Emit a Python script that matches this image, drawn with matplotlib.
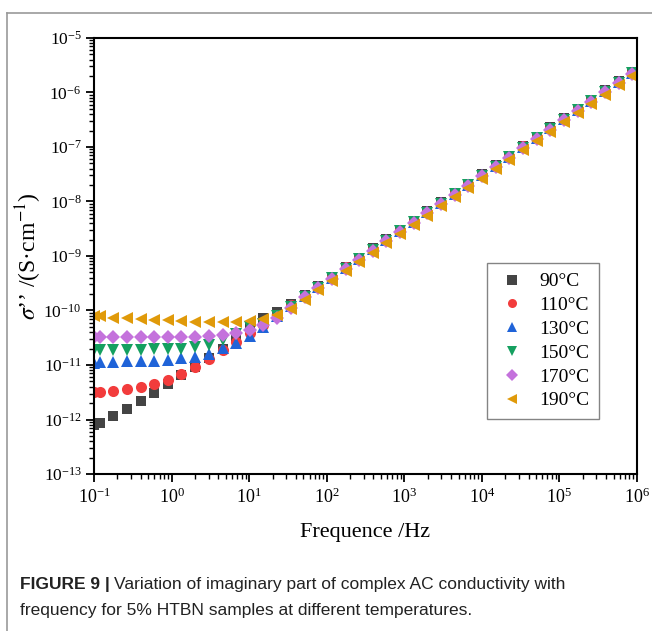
import matplotlib
matplotlib.use("Agg")
import matplotlib.pyplot as plt
from matplotlib.lines import Line2D
from matplotlib.ticker import LogLocator, NullFormatter
import numpy as np

plt.rcParams['font.family'] = 'Liberation Serif'
plt.rcParams['mathtext.fontset'] = 'stix'

# frequency sweep (Hz)
freq = [0.1, 0.12, 0.177, 0.266, 0.398, 0.598, 0.896, 1.34, 2.02, 3.02,
        4.54, 6.8, 10.2, 15.3, 23.0, 34.5, 51.7, 77.6, 116, 175,
        262, 393, 589, 884, 1330, 1990, 2980, 4480, 6720, 10100,
        15100, 22700, 34000, 51000, 76500, 115000, 172000, 258000, 388000, 581000,
        872000]

# log10(sigma'') for each temperature
log_90 = [-12.10, -12.06, -11.94, -11.81, -11.66, -11.51, -11.35, -11.18, -11.03, -10.88,
          -10.71, -10.51, -10.30, -10.14, -10.02, -9.88, -9.72, -9.55, -9.38, -9.20,
          -9.03, -8.86, -8.69, -8.52, -8.35, -8.18, -8.01, -7.84, -7.67, -7.50,
          -7.33, -7.16, -6.98, -6.81, -6.64, -6.47, -6.30, -6.13, -5.96, -5.79,
          -5.62]
log_110 = [-11.50, -11.50, -11.47, -11.44, -11.40, -11.35, -11.28, -11.17, -11.03, -10.89,
           -10.72, -10.57, -10.42, -10.27, -10.08, -9.89, -9.73, -9.56, -9.39, -9.21,
           -9.04, -8.87, -8.70, -8.53, -8.36, -8.19, -8.02, -7.85, -7.68, -7.51,
           -7.34, -7.17, -6.99, -6.82, -6.65, -6.48, -6.31, -6.14, -5.97, -5.80,
           -5.63]
log_130 = [-10.96, -10.94, -10.94, -10.93, -10.93, -10.92, -10.91, -10.88, -10.85, -10.80,
           -10.69, -10.59, -10.46, -10.31, -10.10, -9.91, -9.74, -9.57, -9.40, -9.22,
           -9.05, -8.88, -8.71, -8.54, -8.37, -8.20, -8.03, -7.86, -7.69, -7.52,
           -7.35, -7.18, -7.00, -6.83, -6.66, -6.49, -6.32, -6.15, -5.98, -5.81,
           -5.64]
log_150 = [-10.73, -10.72, -10.72, -10.72, -10.72, -10.71, -10.71, -10.70, -10.67, -10.63,
           -10.54, -10.43, -10.31, -10.24, -10.11, -9.93, -9.75, -9.58, -9.41, -9.23,
           -9.06, -8.89, -8.72, -8.55, -8.38, -8.21, -8.04, -7.87, -7.70, -7.53,
           -7.36, -7.19, -7.01, -6.84, -6.67, -6.50, -6.33, -6.16, -5.99, -5.82,
           -5.65]
log_170 = [-10.49, -10.49, -10.49, -10.49, -10.49, -10.49, -10.49, -10.49, -10.48, -10.47,
           -10.45, -10.41, -10.35, -10.26, -10.14, -9.95, -9.76, -9.59, -9.42, -9.24,
           -9.07, -8.90, -8.73, -8.56, -8.39, -8.22, -8.05, -7.88, -7.71, -7.54,
           -7.37, -7.20, -7.02, -6.85, -6.68, -6.51, -6.34, -6.17, -6.00, -5.83,
           -5.66]
log_190 = [-10.11, -10.11, -10.13, -10.14, -10.16, -10.17, -10.17, -10.19, -10.21, -10.22,
           -10.22, -10.21, -10.19, -10.15, -10.08, -9.97, -9.80, -9.63, -9.46, -9.28,
           -9.11, -8.94, -8.77, -8.60, -8.43, -8.26, -8.09, -7.92, -7.75, -7.58,
           -7.41, -7.24, -7.06, -6.89, -6.72, -6.55, -6.38, -6.21, -6.04, -5.87,
           -5.70]

labels = ['90°C', '110°C', '130°C', '150°C', '170°C', '190°C']
series = [log_90, log_110, log_130, log_150, log_170, log_190]
colors = ['#444444', '#f23c3c', '#1f63d8', '#15a060', '#c472dc', '#e09a0a']
markers = ['s', 'o', '^', 'v', 'D', '<']
msizes = [7, 8, 9, 9, 7.5, 9]

fig = plt.figure(figsize=(6.52, 6.31), dpi=100)
ax = fig.add_axes([0.1442, 0.2488, 0.8328, 0.691])

for lab, vals, c, m, ms in zip(labels, series, colors, markers, msizes):
    ax.plot(freq, 10 ** np.array(vals), linestyle='none', marker=m, color=c,
            markersize=ms, markeredgewidth=0, label=lab)

ax.set_xscale('log')
ax.set_yscale('log')
ax.set_xlim(0.1, 1e6)
ax.set_ylim(1e-13, 1e-5)

ax.xaxis.set_major_locator(LogLocator(base=10, numticks=20))
ax.yaxis.set_major_locator(LogLocator(base=10, numticks=20))
ax.xaxis.set_minor_locator(LogLocator(base=10, subs=np.arange(2, 10), numticks=20))
ax.yaxis.set_minor_locator(LogLocator(base=10, subs=np.arange(2, 10), numticks=20))
ax.xaxis.set_minor_formatter(NullFormatter())
ax.yaxis.set_minor_formatter(NullFormatter())

ax.tick_params(which='major', direction='out', length=6, width=1.3, labelsize=13,
               top=False, right=False)
ax.tick_params(axis='y', which='major', labelsize=12.5, pad=3)
ax.tick_params(which='minor', direction='out', length=3.5, width=1.0,
               top=False, right=False)
for s in ax.spines.values():
    s.set_linewidth(1.5)

ax.set_xlabel('Frequence /Hz', fontsize=16, labelpad=12)
ax.set_ylabel(r"$\sigma$’’ /(S·cm$^{-1}$)", fontsize=17)
ax.yaxis.set_label_coords(-0.092, 0.5)

leg = ax.legend(loc='upper left', bbox_to_anchor=(0.724, 0.484), borderaxespad=0,
                fontsize=14, frameon=True, fancybox=False, edgecolor='#666666',
                handletextpad=0.6, labelspacing=0.32, borderpad=0.5,
                handlelength=1.6)
leg.get_frame().set_linewidth(1.0)
for h in leg.legend_handles:
    h.set_markersize(6.5)

# page frame lines around the figure
fig.add_artist(Line2D([7 / 652, 1.0], [1 - 12.5 / 631, 1 - 12.5 / 631],
                      transform=fig.transFigure, color='#999999', lw=1.2))
fig.add_artist(Line2D([7 / 652, 7 / 652], [0, 1 - 12.5 / 631],
                      transform=fig.transFigure, color='#999999', lw=1.2))

# caption
cap_kw = dict(fontsize=12.5, family='Liberation Sans', color='#222222', va='baseline')
t1 = fig.text(20 / 652, 1 - 589 / 631, 'FIGURE 9 |', fontweight='bold', **cap_kw)
fig.canvas.draw()
bb = t1.get_window_extent(renderer=fig.canvas.get_renderer())
x2 = (bb.x1 + 4) / fig.bbox.width
fig.text(x2, 1 - 589 / 631,
         'Variation of imaginary part of complex AC conductivity with', **cap_kw)
fig.text(20 / 652, 1 - 615 / 631,
         'frequency for 5% HTBN samples at different temperatures.', **cap_kw)

fig.savefig('out.png', dpi=100)
